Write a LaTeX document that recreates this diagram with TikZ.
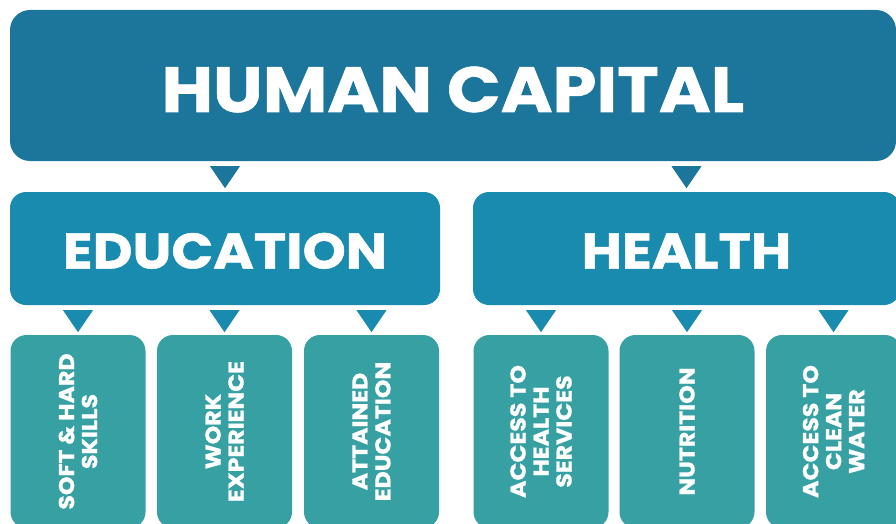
\documentclass[tikz,border=0pt]{standalone}
\usepackage{fontspec}
\setmainfont{Poppins}[FakeStretch=1.1, FakeBold=1]
\usetikzlibrary{calc}

\definecolor{capblue}{RGB}{28,117,155}
\definecolor{midblue}{RGB}{24,139,174}
\definecolor{leafteal}{RGB}{55,160,163}

\tikzset{
  box/.style={fill=#1, inner sep=0pt, text=white},
  bigbox/.style={box=capblue, rounded corners=20pt, minimum width=886pt, minimum height=151pt,
    text height=53pt, text depth=0pt, font=\bfseries\fontsize{64}{64}\selectfont},
  midbox/.style={box=midblue, rounded corners=16pt, minimum width=#1, minimum height=113pt,
    text height=40pt, text depth=0pt, font=\bfseries\fontsize{50}{50}\selectfont},
  leaf/.style={box=leafteal, rounded corners=16pt, rotate=90, minimum width=193pt, minimum height=135pt,
    align=center, font=\bfseries\fontsize{21.5}{23}\selectfont},
}

\newcommand{\tri}[3]{\fill[#1] ($(#2.south -| #3.center)+(-15,5)$) -- ++(30,0) -- ++(-15,22) -- cycle;}

\begin{document}
\begin{tikzpicture}[x=1pt,y=-1pt]
\useasboundingbox (0,0) rectangle (896,524);
\clip (0,0) rectangle (896,524);

\node[bigbox] (hc) at (453,85.5) {HUMAN CAPITAL};

\node[midbox=430pt] (edu) at (225,248.5) {EDUCATION};
\node[midbox=427pt] (hlth) at (686.5,248.5) {HEALTH};

\node[leaf] (skills) at (78,431.5) {SOFT \& HARD\\SKILLS};
\node[leaf] (work) at (224.5,431.5) {WORK\\EXPERIENCE};
\node[leaf] (attained) at (371.5,431.5) {ATTAINED\\EDUCATION};
\node[leaf] (access) at (541,431.5) {ACCESS TO\\HEALTH\\SERVICES};
\node[leaf] (nutrition) at (687,431.5) {NUTRITION};
\node[leaf] (water) at (833.5,431.5) {ACCESS TO\\CLEAN\\WATER};

\tri{capblue}{hc}{edu}
\tri{capblue}{hc}{hlth}
\foreach \d in {skills,work,attained} {\tri{midblue}{edu}{\d}}
\foreach \d in {access,nutrition,water} {\tri{midblue}{hlth}{\d}}
\end{tikzpicture}
\end{document}
